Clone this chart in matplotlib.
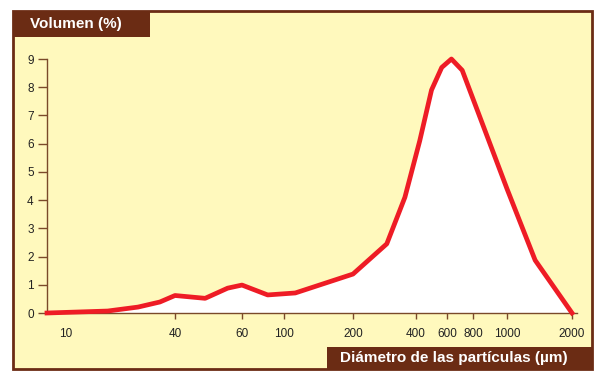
import numpy as np
import matplotlib
matplotlib.use("Agg")
import matplotlib.pyplot as plt
from matplotlib.patches import Rectangle

# particle size distribution (diameter in um, volume in %)
diam = [8, 17, 25, 33, 40, 48, 55, 60, 82, 112, 200, 290, 354, 420, 490,
        560, 630, 710, 1000, 1350, 2000]
volume = [0, 0.07, 0.21, 0.39, 0.62, 0.52, 0.88, 0.99, 0.64, 0.71, 1.38,
          2.45, 4.1, 6.1, 7.9, 8.7, 9.0, 8.6, 4.4, 1.87, 0]

tick_vals = [10, 40, 60, 100, 200, 400, 600, 800, 1000, 2000]
tick_labels = ["10", "40", "60", "100", "200", "400", "600", "800", "1000", "2000"]
y_ticks = list(range(10))

# the printed axis is not a true log scale, so map it piecewise
anchor_vals = [8] + tick_vals + [2100]
anchor_pos = [47, 66, 175, 242, 284, 353, 416, 447, 473, 507, 572, 577]
log_anchor = np.log10(anchor_vals)


def fwd(x):
    x = np.clip(np.asarray(x, dtype=float), 1e-3, None)
    return np.interp(np.log10(x), log_anchor, anchor_pos)


def inv(p):
    return 10 ** np.interp(p, anchor_pos, log_anchor)


W, H = 604, 374
bg = "#fff9bd"
brown = "#6b2c14"
red = "#ee1c25"


def box(x0, y0, x1, y1):
    # pixel box (top-left origin) -> figure fraction
    return (x0 / W, 1 - y1 / H), (x1 - x0) / W, (y1 - y0) / H


fig = plt.figure(figsize=(W / 100, H / 100), dpi=100)
fig.patch.set_facecolor("white")

xy, w, h = box(13, 11, 592, 369)
fig.add_artist(Rectangle(xy, w, h, transform=fig.transFigure,
                         facecolor=bg, edgecolor=brown, linewidth=2, zorder=0))
xy, w, h = box(13, 11, 150, 37)
fig.add_artist(Rectangle(xy, w, h, transform=fig.transFigure,
                         facecolor=brown, edgecolor="none", zorder=1))
xy, w, h = box(327, 347, 592, 369)
fig.add_artist(Rectangle(xy, w, h, transform=fig.transFigure,
                         facecolor=brown, edgecolor="none", zorder=1))

lab_font = ["Liberation Sans Narrow", "Liberation Sans", "DejaVu Sans"]
fig.text(30 / W, 1 - 24 / H, "Volumen (%)", color="white", fontsize=11,
         fontweight="bold", family=lab_font, va="center", ha="left")
fig.text(340 / W, 1 - 358 / H, "Diámetro de las partículas (µm)", color="white",
         fontsize=11, fontweight="bold", family=lab_font, va="center", ha="left")

ax = fig.add_axes([47 / W, 1 - 313 / H, (577 - 47) / W, (313 - 59) / H])
ax.set_facecolor("none")
ax.set_xscale("function", functions=(fwd, inv))
ax.set_xlim(8, 2100)
ax.set_ylim(0, 9)

ax.fill_between(diam, volume, 0, color="white", linewidth=0, zorder=2)
ax.plot(diam, volume, color=red, linewidth=3.4, clip_on=False, zorder=3)

for s in ["top", "right"]:
    ax.spines[s].set_visible(False)
for s in ["left", "bottom"]:
    ax.spines[s].set_color("#7a4a2a")
    ax.spines[s].set_linewidth(1)

ax.set_xticks(tick_vals)
ax.set_xticklabels(tick_labels)
ax.xaxis.set_minor_locator(plt.NullLocator())
ax.set_yticks(y_ticks)
ax.tick_params(axis="x", length=4, width=1, color="#7a4a2a", pad=7,
               labelsize=8.5, labelcolor="#222222")
ax.tick_params(axis="y", length=6.5, width=1, color="#7a4a2a", pad=3,
               labelsize=8.5, labelcolor="#222222")
ax.xaxis.get_major_ticks()[0].tick1line.set_visible(False)
for t in ax.get_xticklabels() + ax.get_yticklabels():
    t.set_family(["Liberation Sans", "DejaVu Sans"])

fig.savefig("out.png", dpi=100)
